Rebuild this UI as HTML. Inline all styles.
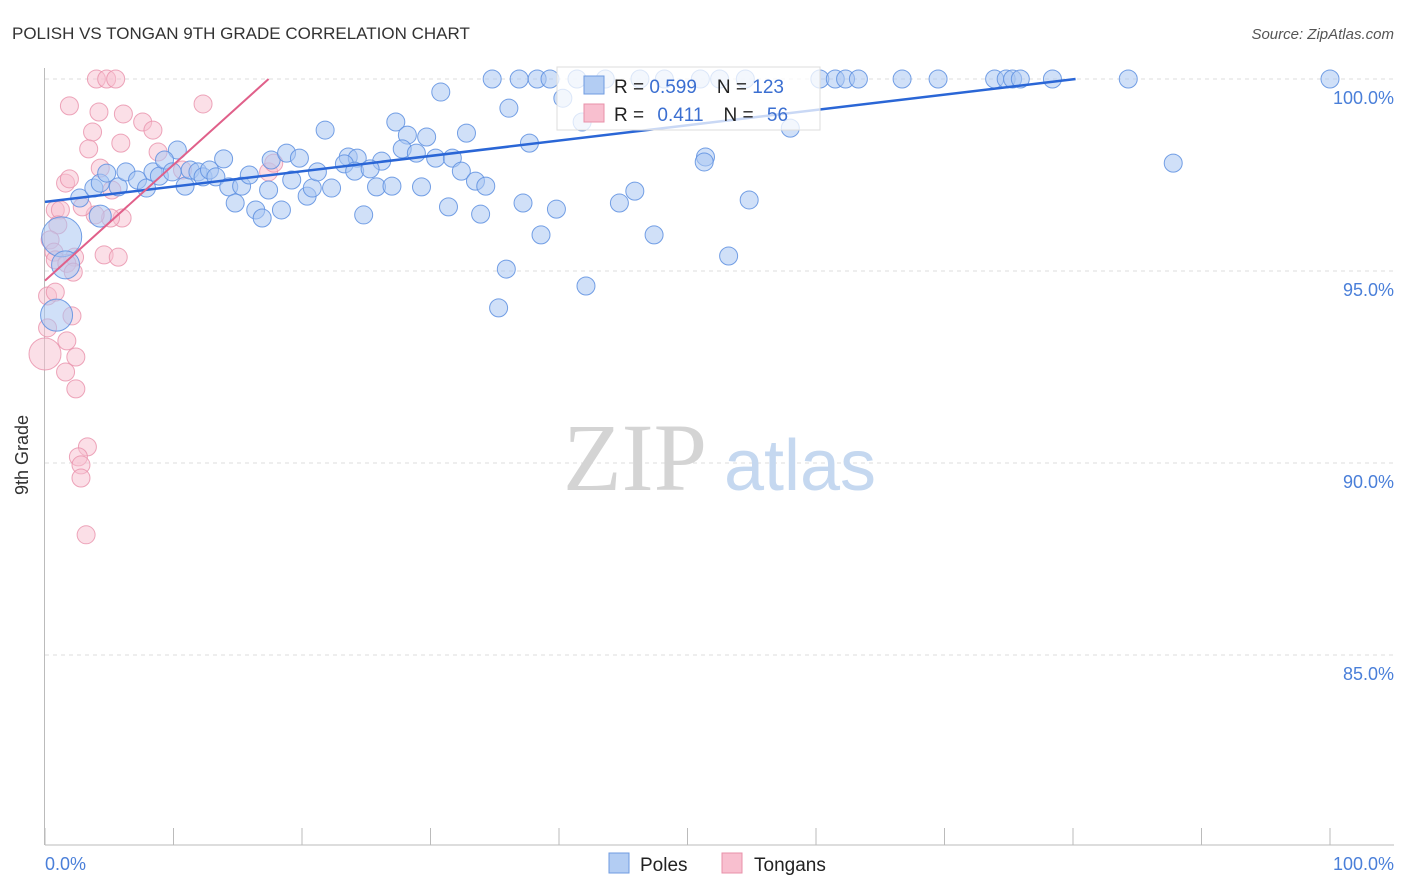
<!DOCTYPE html>
<html><head><meta charset="utf-8"><style>
body{margin:0;background:#fff;width:1406px;height:892px;overflow:hidden;font-family:"Liberation Sans",sans-serif}
svg{position:absolute;left:0;top:0}
</style></head><body>
<svg width="1406" height="892" id="chart">
<text x="12" y="39" font-size="17" fill="#333">POLISH VS TONGAN 9TH GRADE CORRELATION CHART</text>
<text x="1394" y="39" font-size="15" fill="#555" font-style="italic" text-anchor="end">Source: ZipAtlas.com</text>
<g id="grid"></g>
<g><text x="635" y="490" font-size="96" font-family="Liberation Serif,serif" fill="#d4d4d4" text-anchor="middle">ZIP</text><text x="800" y="490" font-size="72" fill="#c5d8f0" text-anchor="middle">atlas</text></g>
<g id="pts"></g>
<g id="trends"></g>
<text x="28" y="455" font-size="18" fill="#333" transform="rotate(-90 28 455)" text-anchor="middle">9th Grade</text>
<text x="45" y="870" font-size="18" fill="#4a7fd9">0.0%</text>
<text x="1394" y="870" font-size="18" fill="#4a7fd9" text-anchor="end">100.0%</text>
<g>
<rect x="557" y="67" width="263" height="63" fill="#fff" fill-opacity="0.75" stroke="#ddd"/>
<rect x="584" y="76" width="20" height="18" fill="#b3cdf3" stroke="#6f9be0"/>
<rect x="584" y="104" width="20" height="18" fill="#f8bfcf" stroke="#e890aa"/>
<text x="614" y="93" font-size="19" fill="#222">R = <tspan fill="#3b6fd1">0.599</tspan><tspan dx="20">N = </tspan><tspan fill="#3b6fd1">123</tspan></text>
<text x="614" y="121" font-size="19" fill="#222">R = <tspan fill="#3b6fd1" dx="8">0.411</tspan><tspan dx="20">N = </tspan><tspan fill="#3b6fd1" dx="8">56</tspan></text>
</g>
<g>
<rect x="609" y="853" width="20" height="20" fill="#b3cdf3" stroke="#6f9be0"/><text x="640" y="871" font-size="19" fill="#222">Poles</text>
<rect x="722" y="853" width="20" height="20" fill="#f8bfcf" stroke="#e890aa"/><text x="754" y="871" font-size="19" fill="#222">Tongans</text>
</g>
</svg>
<script>
const yTicks=[100,95,90,85];
const yTickLabels=["100.0%","95.0%","90.0%","85.0%"];
const polesX=[34.8,36.9,38.3,39.3,41.4,43.6,46.3,48.2,51.0,52.5,54.5,60.3,61.5,62.3,63.3,66.7,69.5,73.9,74.8,75.3,75.9,78.4,84.3,100,
30.8,36.1,40.3,41.8,58.0,21.8,27.3,28.2,29.7,32.8,37.7,10.3,17.6,18.8,19.8,13.9,23.6,24.3,26.2,27.8,28.9,30.4,31.7,32.4,33.5,34.3,51.4,51.3,87.8,
2.7,3.8,4.3,4.8,5.7,6.3,7.2,7.9,8.4,8.9,9.3,9.9,10.9,11.3,11.9,12.3,12.8,13.3,14.3,14.8,15.3,15.9,16.4,16.9,17.4,18.4,19.2,20.4,20.8,21.2,22.3,23.3,24.1,24.8,25.3,25.8,27.0,29.3,31.4,33.9,35.9,35.3,37.2,38.6,39.8,42.1,44.7,45.9,47.4,53.2,54.8,
1.3,0.9,1.6,4.3];
const polesY=[100,100,100,100,100,100,100,100,100,100,100,100,100,100,100,100,100,100,100,100,100,100,100,100,
99.66,99.24,99.5,98.88,98.72,98.67,98.88,98.54,98.49,98.59,98.33,98.15,97.89,98.07,97.94,97.92,97.97,97.94,97.86,98.18,98.07,97.94,97.94,97.6,97.34,97.21,97.97,97.84,97.81,
96.9,97.16,97.29,97.55,97.19,97.58,97.37,97.16,97.58,97.47,97.89,97.58,97.21,97.63,97.58,97.45,97.63,97.45,97.19,96.77,97.21,97.5,96.59,96.38,97.11,96.59,97.37,96.95,97.16,97.58,97.16,97.79,97.6,96.46,97.66,97.19,97.21,97.19,96.67,96.48,95.05,94.04,96.77,95.94,96.61,94.61,96.77,97.08,95.94,95.39,96.85,
95.89,93.85,95.16,96.43];
const polesSize=[];for(let i=0;i<polesX.length;i++)polesSize.push(9);
polesSize[polesSize.length-4]=20;polesSize[polesSize.length-3]=16;polesSize[polesSize.length-2]=14;polesSize[polesSize.length-1]=11;
const tongX=[4.0,4.8,5.5,1.9,4.2,6.1,12.3,7.6,8.4,3.7,5.9,3.4,8.8,10.7,17.4,17.8,4.3,1.6,1.9,0.8,1.2,1.0,0.4,0.7,0.8,2.3,1.7,2.2,4.6,5.7,6.0,5.1,3.9,2.9,5.2,0.2,0.8,2.1,0.2,1.7,0,1.6,2.4,2.4,3.3,2.6,2.8,2.8,3.2];
const tongY=[100,100,100,99.3,99.14,99.09,99.35,98.88,98.67,98.62,98.33,98.18,98.1,97.63,97.58,97.81,97.68,97.29,97.4,96.59,96.59,96.2,95.81,95.49,95.29,95.36,95.2,94.97,95.42,95.36,96.38,96.38,96.46,96.67,97.11,94.35,94.45,93.83,93.52,93.18,92.84,92.37,92.76,91.93,90.42,90.16,89.95,89.61,88.13];
const tongSize=tongX.map((_,i)=>i===40?16:9);
const polesTrend=[[0,96.8],[80.2,100]];
const tongTrend=[[0,94.75],[17.4,100]];
const X=v=>45+v*12.85, Y=v=>79+(100-v)*38.4;
const NS="http://www.w3.org/2000/svg";
function mk(t,a,p){const e=document.createElementNS(NS,t);for(const k in a)e.setAttribute(k,a[k]);p.appendChild(e);return e;}
const g=document.getElementById('grid');
yTicks.forEach((t,i)=>{
 const l=mk('line',{x1:45,x2:1394,y1:Y(t),y2:Y(t),stroke:'#ddd','stroke-dasharray':'4 4'},g);
 
 
 const tx=mk('text',{x:1394,y:Y(t)+25,'font-size':18,fill:'#4a7fd9','text-anchor':'end'},g);tx.textContent=yTickLabels[i];
 
 
});
const ax=mk('line',{x1:44.5,x2:44.5,y1:68,y2:845,stroke:'#bbb'},g);


const bx=mk('line',{x1:45,x2:1394,y1:845,y2:845,stroke:'#bbb'},g);


for(let i=0;i<=10;i++){const t=mk('line',{x1:X(i*10),x2:X(i*10),y1:828,y2:845,stroke:'#bbb'},g);
 
 }
const P=document.getElementById('pts');
tongX.forEach((x,i)=>{const c=mk('circle',{cx:X(x),cy:Y(tongY[i]),r:tongSize[i],fill:'#f8bfcf','fill-opacity':0.5,stroke:'#e890aa','stroke-opacity':0.8},P);
 
 });
polesX.forEach((x,i)=>{const c=mk('circle',{cx:X(x),cy:Y(polesY[i]),r:polesSize[i],fill:'#a9c6f2','fill-opacity':0.55,stroke:'#5d8fe0','stroke-opacity':0.85},P);
 
 });
const T=document.getElementById('trends');
const l1=mk('line',{x1:X(polesTrend[0][0]),y1:Y(polesTrend[0][1]),x2:X(polesTrend[1][0]),y2:Y(polesTrend[1][1]),stroke:'#2a66d6','stroke-width':2.5},T);


const l2=mk('line',{x1:X(tongTrend[0][0]),y1:Y(tongTrend[0][1]),x2:X(tongTrend[1][0]),y2:Y(tongTrend[1][1]),stroke:'#e0608a','stroke-width':2},T);


</script>
</body></html>
